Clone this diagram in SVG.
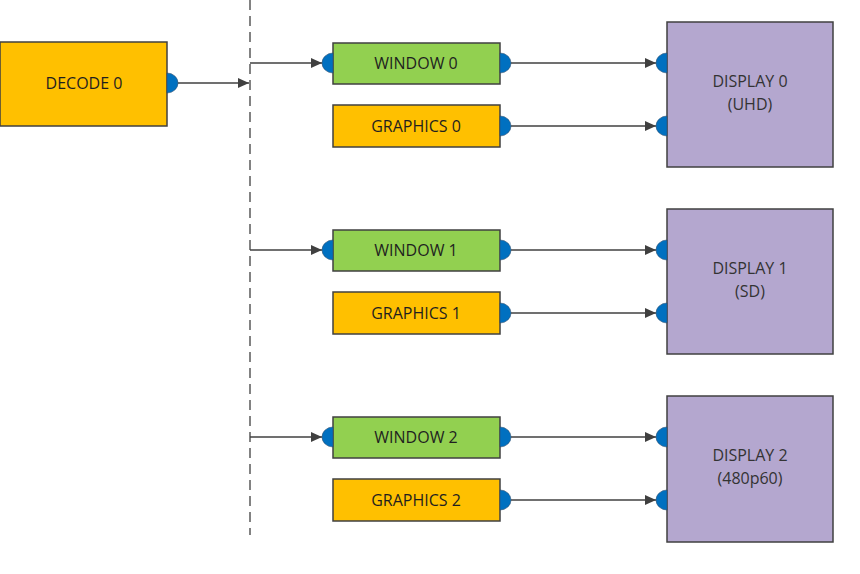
<svg xmlns="http://www.w3.org/2000/svg" width="860" height="574" viewBox="0 0 860 574">
  <defs>
    <marker id="arrow" viewBox="0 0 11 10" refX="11" refY="5" markerWidth="11" markerHeight="10" markerUnits="userSpaceOnUse" orient="auto">
      <path d="M0,0 L11,5 L0,10 z" fill="#404040"/>
    </marker>
    <!-- half-disc port, flat edge on x=0, bulging to the right -->
    <path id="portR" d="M0,-10 A11,10 0 0 1 0,10 z"/>
    <!-- half-disc port, flat edge on x=0, bulging to the left -->
    <path id="portL" d="M0,-10 A11,10 0 0 0 0,10 z"/>
  </defs>
  <style>
    .box { stroke: #404040; stroke-width: 1.5; }
    .orange { fill: #FFC000; }
    .green { fill: #92D050; }
    .purple { fill: #B4A7CF; }
    .port { fill: #0070C0; stroke: #2F4F6F; stroke-width: 0.6; }
    .lbl { font-family: "Open Sans", "Liberation Sans", sans-serif; font-size: 16px; fill: #1F1F1F; text-anchor: middle; }
    .dlbl { fill: #333333; }
    .wire { stroke: #404040; stroke-width: 1.5; fill: none; }
    .dash { stroke: #404040; stroke-width: 1.3; stroke-dasharray: 10 6; fill: none; }
  </style>

  <rect width="860" height="574" fill="#FFFFFF"/>

  <!-- connectors -->
  <g id="connectors">
    <line class="dash" x1="250" y1="0" x2="250" y2="535"/>
    <line class="wire" x1="178" y1="83" x2="249" y2="83" marker-end="url(#arrow)"/>
    <!-- fan-out from the split line to each window -->
    <line class="wire" x1="250" y1="63" x2="322" y2="63" marker-end="url(#arrow)"/>
    <line class="wire" x1="250" y1="250" x2="322" y2="250" marker-end="url(#arrow)"/>
    <line class="wire" x1="250" y1="437" x2="322" y2="437" marker-end="url(#arrow)"/>
    <!-- window / graphics outputs to displays -->
    <line class="wire" x1="511" y1="63" x2="656" y2="63" marker-end="url(#arrow)"/>
    <line class="wire" x1="511" y1="126" x2="656" y2="126" marker-end="url(#arrow)"/>
    <line class="wire" x1="511" y1="250" x2="656" y2="250" marker-end="url(#arrow)"/>
    <line class="wire" x1="511" y1="313" x2="656" y2="313" marker-end="url(#arrow)"/>
    <line class="wire" x1="511" y1="437" x2="656" y2="437" marker-end="url(#arrow)"/>
    <line class="wire" x1="511" y1="500" x2="656" y2="500" marker-end="url(#arrow)"/>
  </g>

  <g id="decode0">
    <rect class="box orange" x="0" y="42" width="167" height="84"/>
    <use href="#portR" class="port" x="167" y="83"/>
    <text class="lbl" x="84" y="89">DECODE 0</text>
  </g>

  <g id="window0">
    <rect class="box green" x="333" y="43" width="167" height="41"/>
    <use href="#portL" class="port" x="333" y="63"/>
    <use href="#portR" class="port" x="500" y="63"/>
    <text class="lbl" x="416" y="69">WINDOW 0</text>
  </g>
  <g id="graphics0">
    <rect class="box orange" x="333" y="105" width="167" height="42"/>
    <use href="#portR" class="port" x="500" y="126"/>
    <text class="lbl" x="416" y="132">GRAPHICS 0</text>
  </g>
  <g id="display0">
    <rect class="box purple" x="667" y="22" width="166" height="145"/>
    <use href="#portL" class="port" x="667" y="63"/>
    <use href="#portL" class="port" x="667" y="126"/>
    <text class="lbl dlbl" x="750" y="87">DISPLAY 0</text>
    <text class="lbl dlbl" x="750" y="110">(UHD)</text>
  </g>

  <g id="window1">
    <rect class="box green" x="333" y="230" width="167" height="41"/>
    <use href="#portL" class="port" x="333" y="250"/>
    <use href="#portR" class="port" x="500" y="250"/>
    <text class="lbl" x="416" y="256">WINDOW 1</text>
  </g>
  <g id="graphics1">
    <rect class="box orange" x="333" y="292" width="167" height="42"/>
    <use href="#portR" class="port" x="500" y="313"/>
    <text class="lbl" x="416" y="319">GRAPHICS 1</text>
  </g>
  <g id="display1">
    <rect class="box purple" x="667" y="209" width="166" height="145"/>
    <use href="#portL" class="port" x="667" y="250"/>
    <use href="#portL" class="port" x="667" y="313"/>
    <text class="lbl dlbl" x="750" y="274">DISPLAY 1</text>
    <text class="lbl dlbl" x="750" y="297">(SD)</text>
  </g>

  <g id="window2">
    <rect class="box green" x="333" y="417" width="167" height="41"/>
    <use href="#portL" class="port" x="333" y="437"/>
    <use href="#portR" class="port" x="500" y="437"/>
    <text class="lbl" x="416" y="443">WINDOW 2</text>
  </g>
  <g id="graphics2">
    <rect class="box orange" x="333" y="479" width="167" height="42"/>
    <use href="#portR" class="port" x="500" y="500"/>
    <text class="lbl" x="416" y="506">GRAPHICS 2</text>
  </g>
  <g id="display2">
    <rect class="box purple" x="667" y="396" width="166" height="146"/>
    <use href="#portL" class="port" x="667" y="437"/>
    <use href="#portL" class="port" x="667" y="500"/>
    <text class="lbl dlbl" x="750" y="461">DISPLAY 2</text>
    <text class="lbl dlbl" x="750" y="484">(480p60)</text>
  </g>
</svg>
